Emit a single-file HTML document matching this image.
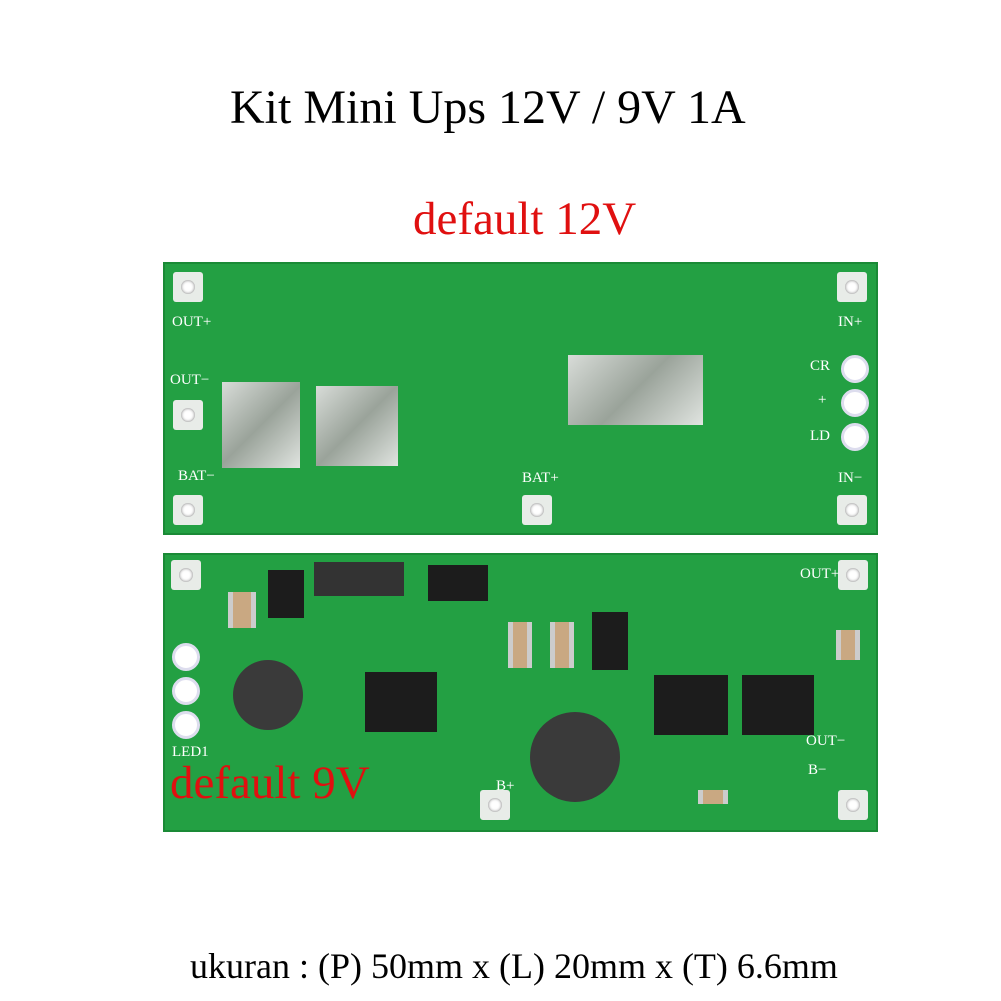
<!DOCTYPE html>
<html><head><meta charset="utf-8"><style>
body{margin:0;width:1001px;height:1001px;background:#fff;position:relative;overflow:hidden;font-family:"Liberation Serif",serif}
.a{position:absolute;white-space:nowrap}
.pcb{background:#23a043;border:2px solid #1a8a36}
.pad{position:absolute;width:30px;height:30px;background:#e8ece8;border-radius:3px}
.pad::after{content:"";position:absolute;left:8px;top:8px;width:14px;height:14px;border-radius:50%;background:#fff;box-shadow:inset 0 0 3px #777}
.silv{position:absolute;background:linear-gradient(135deg,#d8dcd8,#9aa39a,#e0e4e0)}
.chip{position:absolute;background:#1c1c1c}
.lbl{position:absolute;color:#fff;font-family:"Liberation Serif",serif;font-size:15px}
.ring{position:absolute;width:22px;height:22px;border-radius:50%;background:#fff;border:3px solid #dde}
.cap{position:absolute;background:#c9a882;border-left:5px solid #ccc;border-right:5px solid #ccc}
</style></head><body>
<div class="a" style="left:230px;top:80px;font-size:48px;color:#000">Kit Mini Ups 12V / 9V 1A</div>
<div class="a" style="left:413px;top:192px;font-size:47px;color:#e01010">default 12V</div>

<div class="a pcb" style="left:163px;top:262px;width:711px;height:269px"></div>
<div class="pad" style="left:173px;top:272px"></div>
<div class="pad" style="left:173px;top:400px"></div>
<div class="pad" style="left:173px;top:495px"></div>
<div class="pad" style="left:837px;top:272px"></div>
<div class="pad" style="left:837px;top:495px"></div>
<div class="pad" style="left:522px;top:495px"></div>
<div class="ring" style="left:841px;top:355px"></div>
<div class="ring" style="left:841px;top:389px"></div>
<div class="ring" style="left:841px;top:423px"></div>
<div class="silv" style="left:222px;top:382px;width:78px;height:86px"></div>
<div class="silv" style="left:316px;top:386px;width:82px;height:80px"></div>
<div class="silv" style="left:568px;top:355px;width:135px;height:70px"></div>
<div class="lbl" style="left:172px;top:314px">OUT+</div>
<div class="lbl" style="left:170px;top:372px">OUT−</div>
<div class="lbl" style="left:178px;top:468px">BAT−</div>
<div class="lbl" style="left:522px;top:470px">BAT+</div>
<div class="lbl" style="left:838px;top:314px">IN+</div>
<div class="lbl" style="left:810px;top:358px">CR</div>
<div class="lbl" style="left:818px;top:392px">+</div>
<div class="lbl" style="left:810px;top:428px">LD</div>
<div class="lbl" style="left:838px;top:470px">IN−</div>

<div class="a pcb" style="left:163px;top:553px;width:711px;height:275px"></div>
<div class="pad" style="left:171px;top:560px"></div>
<div class="pad" style="left:838px;top:560px"></div>
<div class="pad" style="left:838px;top:790px"></div>
<div class="pad" style="left:480px;top:790px"></div>
<div class="ring" style="left:172px;top:643px"></div>
<div class="ring" style="left:172px;top:677px"></div>
<div class="ring" style="left:172px;top:711px"></div>
<div class="chip" style="left:268px;top:570px;width:36px;height:48px"></div>
<div class="chip" style="left:314px;top:562px;width:90px;height:34px;background:#333"></div>
<div class="chip" style="left:428px;top:565px;width:60px;height:36px"></div>
<div class="chip" style="left:365px;top:672px;width:72px;height:60px"></div>
<div class="chip" style="left:592px;top:612px;width:36px;height:58px"></div>
<div class="chip" style="left:654px;top:675px;width:74px;height:60px"></div>
<div class="chip" style="left:742px;top:675px;width:72px;height:60px"></div>
<div class="a" style="left:233px;top:660px;width:70px;height:70px;border-radius:50%;background:#3a3a3a"></div>
<div class="a" style="left:530px;top:712px;width:90px;height:90px;border-radius:50%;background:#3a3a3a"></div>
<div class="cap" style="left:228px;top:592px;width:18px;height:36px"></div>
<div class="cap" style="left:508px;top:622px;width:14px;height:46px"></div>
<div class="cap" style="left:550px;top:622px;width:14px;height:46px"></div>
<div class="cap" style="left:836px;top:630px;width:14px;height:30px"></div>
<div class="cap" style="left:698px;top:790px;width:20px;height:14px"></div>
<div class="lbl" style="left:800px;top:566px">OUT+</div>
<div class="lbl" style="left:806px;top:733px">OUT−</div>
<div class="lbl" style="left:808px;top:762px">B−</div>
<div class="lbl" style="left:496px;top:778px">B+</div>
<div class="lbl" style="left:172px;top:744px">LED1</div>
<div class="a" style="left:170px;top:756px;font-size:47px;color:#e01010">default 9V</div>

<div class="a" style="left:190px;top:945px;font-size:36px;color:#000">ukuran : (P) 50mm x (L) 20mm x (T) 6.6mm</div>
</body></html>
